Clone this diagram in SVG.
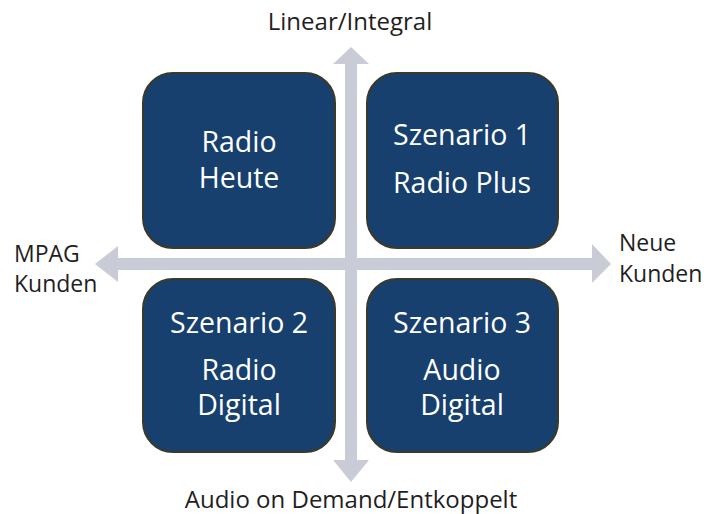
<svg xmlns="http://www.w3.org/2000/svg" width="710" height="514" viewBox="0 0 710 514">
  <defs>
    <style>
      .box { fill: #17406e; stroke: #3b3a26; stroke-width: 2; }
      .axis { fill: #c9ccd6; }
      .btxt { font-family: "Open Sans", "Liberation Sans", sans-serif; font-size: 28.5px; fill: #ffffff; text-anchor: middle; }
      .ltxt { font-family: "Open Sans", "Liberation Sans", sans-serif; font-size: 24px; fill: #1f1f1f; }
      .side { font-size: 23px; }
    </style>
  </defs>
  <rect width="710" height="514" fill="#ffffff"/>

  <!-- axes -->
  <g id="connectors">
    <polygon class="axis" points="351,47 369,64 357,64 357,460 369,460 351,482 333,460 345,460 345,64 333,64"/>
    <polygon class="axis" points="95,264 118,246 118,258 592,258 592,244 611,264 592,283 592,270 118,270 118,282"/>
  </g>

  <g id="node-radio-heute">
    <rect class="box" x="143" y="73" width="192" height="175" rx="30"/>
    <text class="btxt" x="239" y="152">Radio</text>
    <text class="btxt" x="239" y="188">Heute</text>
  </g>
  <g id="node-szenario-1">
    <rect class="box" x="367" y="73" width="191" height="175" rx="30"/>
    <text class="btxt" x="462" y="145">Szenario 1</text>
    <text class="btxt" x="462" y="193">Radio Plus</text>
  </g>
  <g id="node-szenario-2">
    <rect class="box" x="143" y="279" width="192" height="173" rx="30"/>
    <text class="btxt" x="239" y="333">Szenario 2</text>
    <text class="btxt" x="239" y="380">Radio</text>
    <text class="btxt" x="239" y="415">Digital</text>
  </g>
  <g id="node-szenario-3">
    <rect class="box" x="367" y="279" width="191" height="173" rx="30"/>
    <text class="btxt" x="462" y="333">Szenario 3</text>
    <text class="btxt" x="462" y="380">Audio</text>
    <text class="btxt" x="462" y="415">Digital</text>
  </g>

  <g id="axis-labels">
    <text class="ltxt" x="350" y="30" text-anchor="middle">Linear/Integral</text>
    <text class="ltxt" x="351" y="508" text-anchor="middle">Audio on Demand/Entkoppelt</text>
    <text class="ltxt side" x="14" y="262">MPAG</text>
    <text class="ltxt side" x="14" y="292">Kunden</text>
    <text class="ltxt side" x="619" y="251">Neue</text>
    <text class="ltxt side" x="619" y="282">Kunden</text>
  </g>
</svg>
